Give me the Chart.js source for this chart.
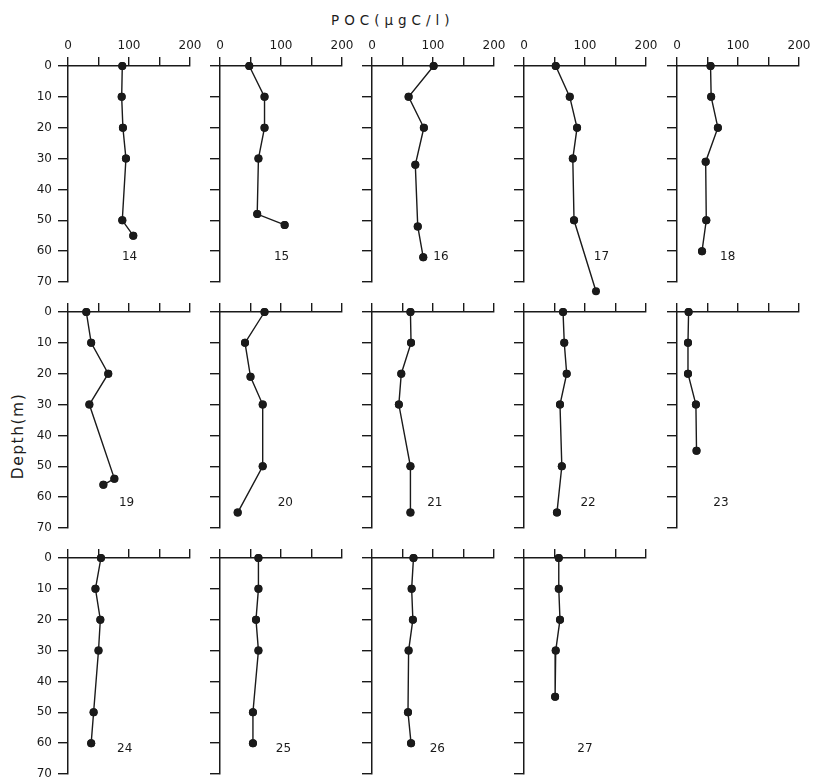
<!DOCTYPE html>
<html>
<head>
<meta charset="utf-8">
<title>POC depth profiles</title>
<script src="https://cdn.jsdelivr.net/npm/chart.js@4.4.0/dist/chart.umd.min.js"></script>
<style>
  body {
    margin: 0;
    width: 817px;
    height: 777px;
    overflow: hidden;
    background: #fff;
    position: relative;
    font-family: "DejaVu Sans", sans-serif;
    color: #1c1c1c;
  }
  .panel { position: absolute; width: 197px; height: 292px; }
  #title {
    position: absolute;
    left: 331px;
    top: 12px;
    font-size: 13.5px;
    letter-spacing: 5px;
    white-space: nowrap;
  }
  #ylabel {
    position: absolute;
    left: -42px;
    top: 427px;
    width: 120px;
    text-align: center;
    font-size: 15.5px;
    letter-spacing: 1.5px;
    transform: rotate(-90deg);
  }
</style>
</head>
<body>
<div id="title">POC(μgC/l)</div>
<div id="ylabel">Depth(m)</div>

<script>
// station profiles: depth (m) and POC (ugC/l)
const stations = ["14", "15", "16", "17", "18", "19", "20", "21", "22", "23", "24", "25", "26", "27"];

const depth14 = [0, 10, 20, 30, 50, 55];
const poc14 = [89, 88, 90, 95, 89, 107];
const depth15 = [0, 10, 20, 30, 48, 51.5];
const poc15 = [48, 73, 73, 63, 61, 106];
const depth16 = [0, 10, 20, 32, 52, 62];
const poc16 = [101, 60, 85, 71, 75, 84];
const depth17 = [0, 10, 20, 30, 50, 73];
const poc17 = [52, 75, 87, 80, 82, 118];
const depth18 = [0, 10, 20, 31, 50, 60];
const poc18 = [55, 56, 67, 47, 48, 41];
const depth19 = [0, 10, 20, 30, 54, 56];
const poc19 = [30, 38, 66, 35, 76, 58];
const depth20 = [0, 10, 21, 30, 50, 65];
const poc20 = [73, 41, 50, 70, 70, 29];
const depth21 = [0, 10, 20, 30, 50, 65];
const poc21 = [63, 64, 48, 44, 63, 63];
const depth22 = [0, 10, 20, 30, 50, 65];
const poc22 = [64, 66, 70, 59, 62, 54];
const depth23 = [0, 10, 20, 30, 45];
const poc23 = [19, 18, 18, 31, 32];
const depth24 = [0, 10, 20, 30, 50, 60];
const poc24 = [54, 45, 53, 50, 42, 38];
const depth25 = [0, 10, 20, 30, 50, 60];
const poc25 = [63, 63, 59, 63, 54, 54];
const depth26 = [0, 10, 20, 30, 50, 60];
const poc26 = [68, 65, 67, 60, 59, 64];
const depth27 = [0, 10, 20, 30, 45];
const poc27 = [57, 57, 59, 52, 51];

const depths = [depth14, depth15, depth16, depth17, depth18, depth19, depth20,
                depth21, depth22, depth23, depth24, depth25, depth26, depth27];
const pocs = [poc14, poc15, poc16, poc17, poc18, poc19, poc20,
              poc21, poc22, poc23, poc24, poc25, poc26, poc27];

const xTicks = [0, 100, 200];
const yTicks = [0, 10, 20, 30, 40, 50, 60, 70];

// where the station number sits, in axis units
const labelPoc = [101, 101, 113, 127, 83, 96, 107, 103, 105, 72, 93, 104, 107, 100];
const labelDepth = 62;

const ink = "#1a1a1a";
const font = "'DejaVu Sans', sans-serif";
const colLeft = [68, 219.5, 371.5, 524, 677];
const rowTop = [66, 312, 558];
const AXIS_W = 55;
const AXIS_H = 56;
const anywhere = { left: -1e4, top: -1e4, right: 1e4, bottom: 1e4 };

const stationLabel = {
  id: "stationLabel",
  afterDatasetsDraw(chart, args, opts) {
    const ctx = chart.ctx;
    // points below 70 m still get their marker
    chart.getDatasetMeta(0).data.forEach(p => p.draw(ctx, anywhere));
    ctx.save();
    ctx.font = "12px " + font;
    ctx.fillStyle = ink;
    ctx.textAlign = "center";
    ctx.textBaseline = "middle";
    ctx.fillText(opts.text, chart.scales.x.getPixelForValue(opts.at), chart.scales.y.getPixelForValue(labelDepth));
    ctx.restore();
  }
};

function makePanel(i) {
  const row = Math.floor(i / 5);
  const col = i % 5;

  const box = document.createElement("div");
  box.className = "panel";
  box.style.left = (colLeft[col] - AXIS_W) + "px";
  box.style.top = (rowTop[row] - AXIS_H) + "px";
  const canvas = document.createElement("canvas");
  box.appendChild(canvas);
  document.body.appendChild(box);

  const points = depths[i].map((d, k) => ({ x: pocs[i][k], y: d }));

  new Chart(canvas, {
    type: "scatter",
    data: {
      datasets: [{
        data: points,
        showLine: true,
        borderColor: ink,
        borderWidth: 1.4,
        pointRadius: 4,
        pointBackgroundColor: ink,
        pointBorderColor: ink,
        pointBorderWidth: 0,
        clip: false
      }]
    },
    options: {
      responsive: true,
      maintainAspectRatio: false,
      animation: false,
      layout: { padding: { right: 20, bottom: 20, top: 0, left: 0 } },
      plugins: {
        legend: { display: false },
        tooltip: { enabled: false },
        stationLabel: { text: stations[i], at: labelPoc[i] }
      },
      scales: {
        x: {
          type: "linear",
          position: "top",
          min: 0,
          max: 200,
          border: { color: ink, width: 1.5 },
          grid: { drawOnChartArea: false, drawTicks: true, tickLength: 9, color: ink, lineWidth: 1.4 },
          ticks: {
            stepSize: 50,
            padding: 4,
            maxRotation: 0,
            autoSkip: false,
            color: ink,
            font: { family: font, size: 12 },
            callback: v => (row === 0 && xTicks.includes(v)) ? String(v) : ""
          },
          afterFit: s => { s.height = AXIS_H; }
        },
        y: {
          type: "linear",
          position: "left",
          reverse: true,
          min: 0,
          max: 70,
          border: { color: ink, width: 1.5 },
          grid: { drawOnChartArea: false, drawTicks: true, tickLength: 10, color: ink, lineWidth: 1.4 },
          ticks: {
            stepSize: 10,
            padding: 6,
            autoSkip: false,
            color: ink,
            font: { family: font, size: 12 },
            callback: v => (col === 0 && yTicks.includes(v)) ? String(v) : ""
          },
          afterFit: s => { s.width = AXIS_W; }
        }
      }
    },
    plugins: [stationLabel]
  });
}

stations.forEach((s, i) => makePanel(i));
</script>
</body>
</html>
